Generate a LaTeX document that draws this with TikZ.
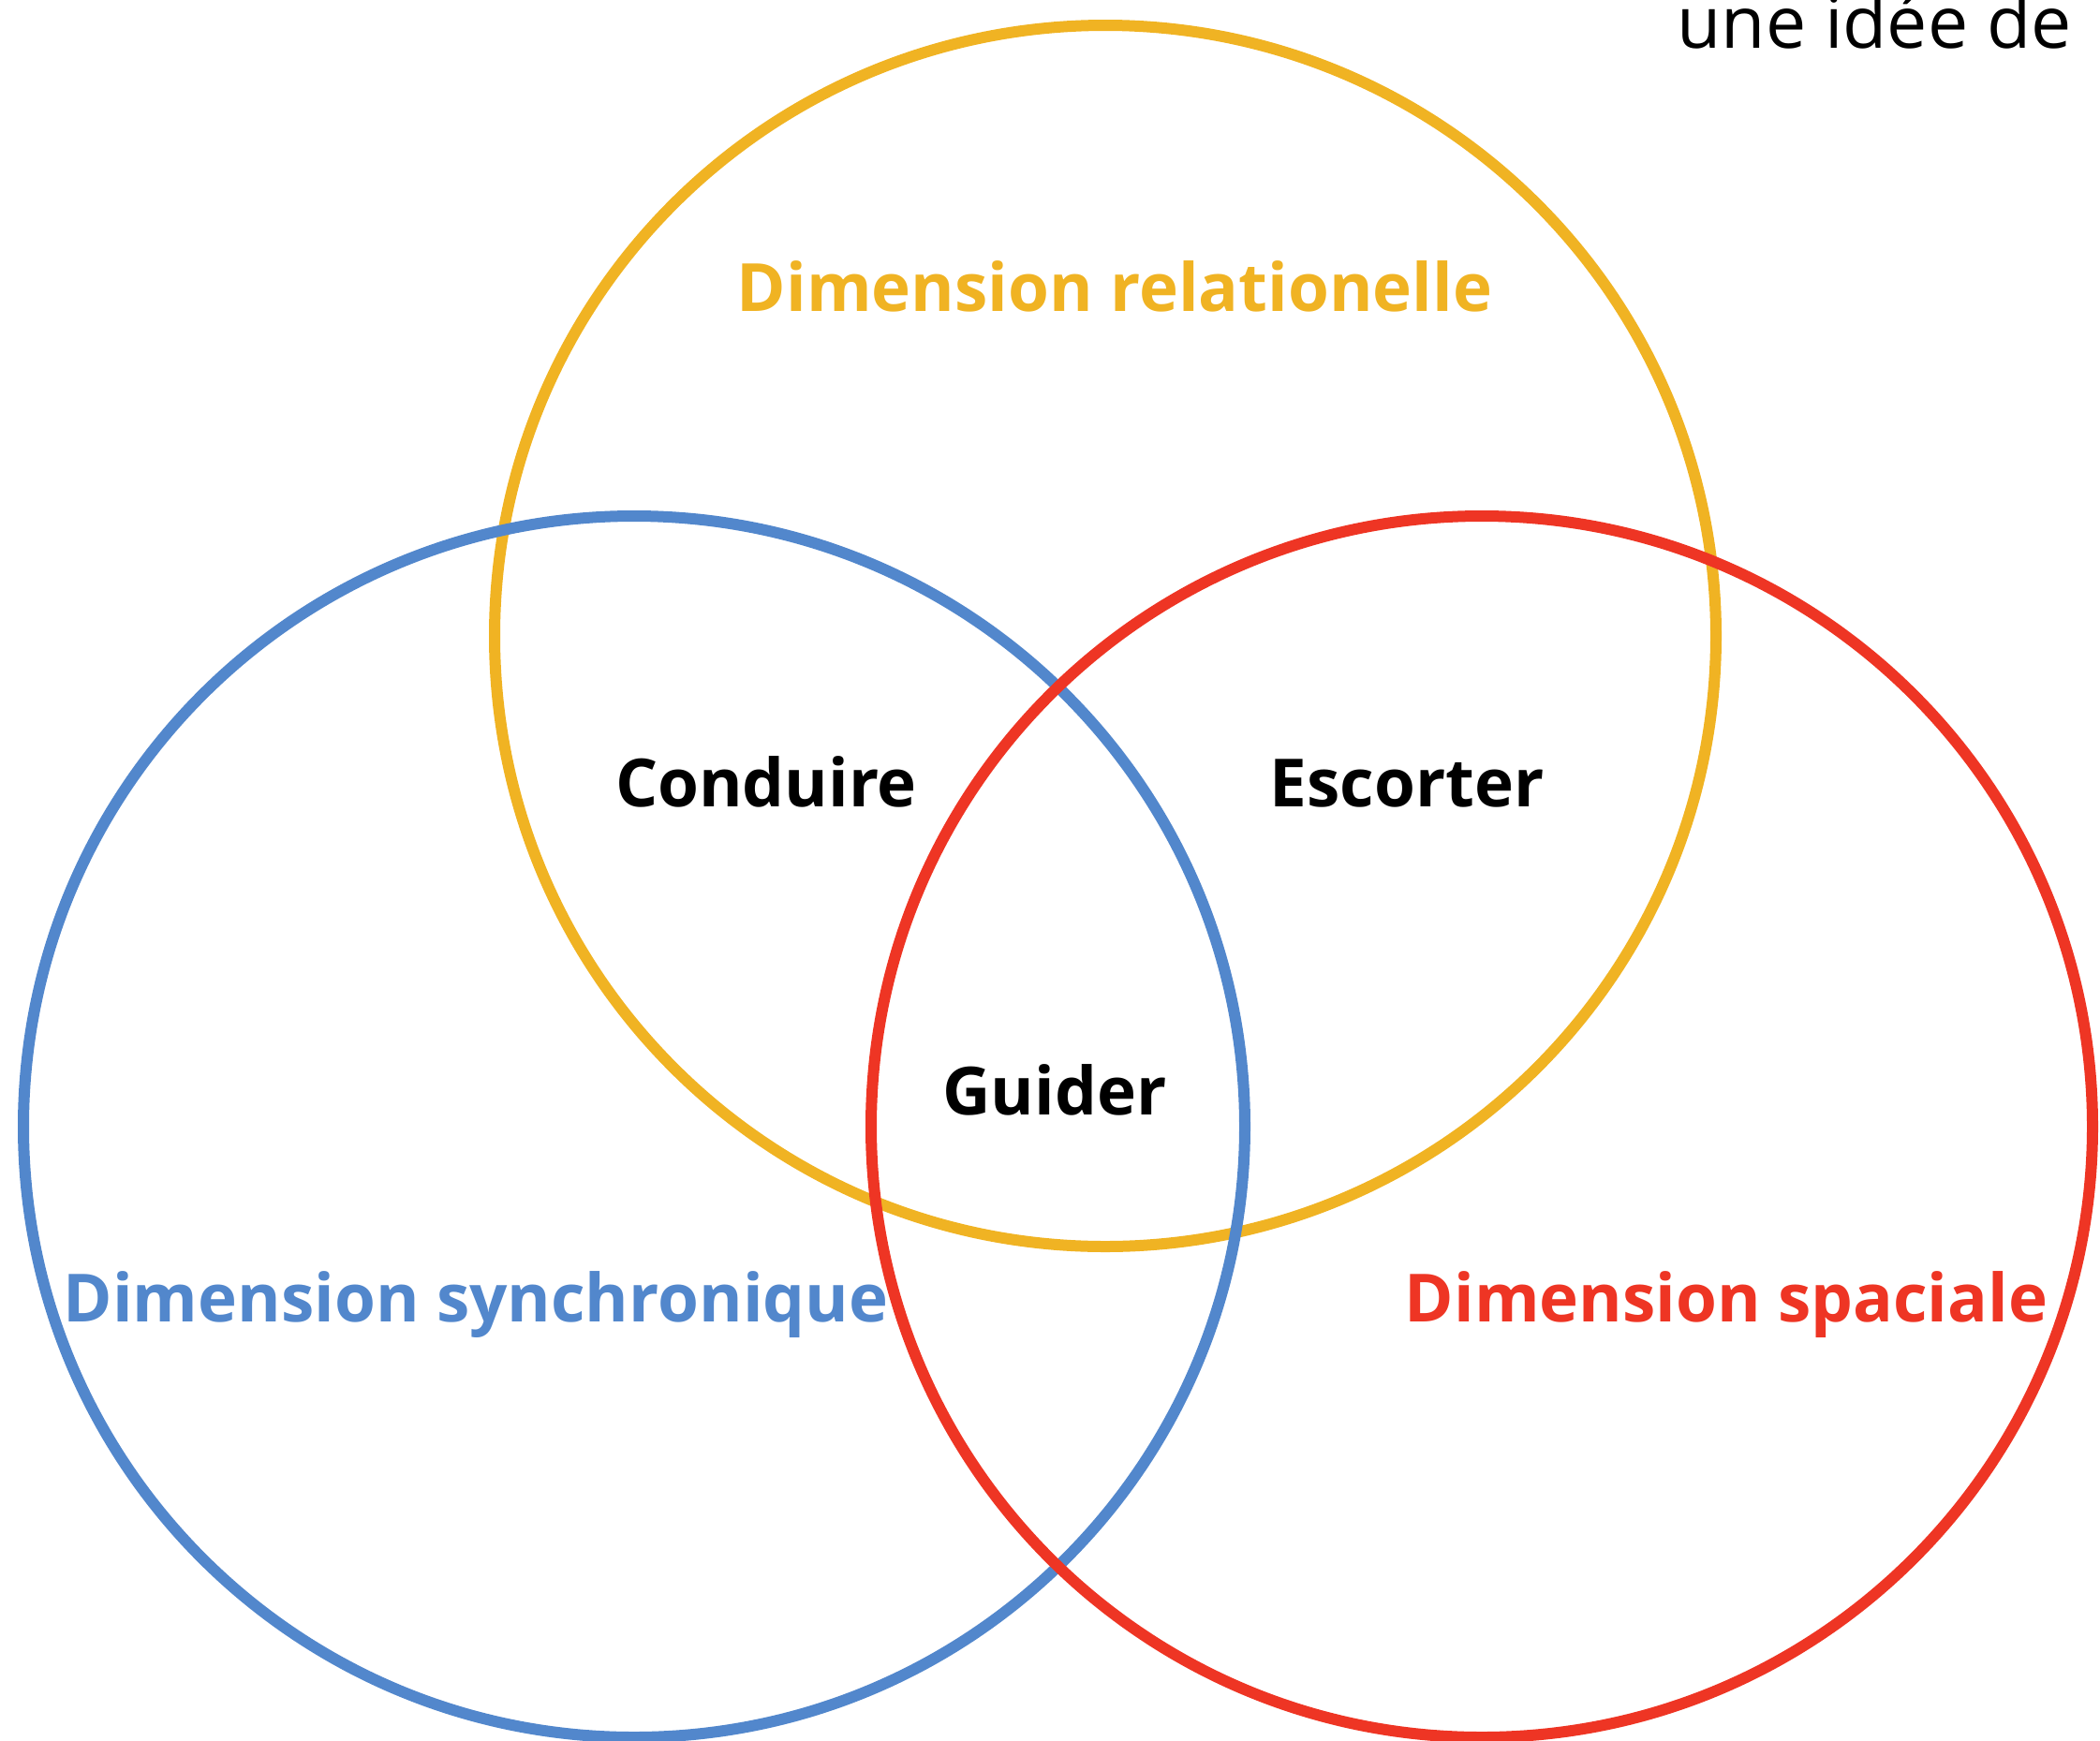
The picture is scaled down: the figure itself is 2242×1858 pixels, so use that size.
\documentclass[tikz,border=0pt]{standalone}
\usepackage{fontspec}
\setmainfont{Open Sans}
\definecolor{relcol}{HTML}{F0B323}
\definecolor{syncol}{HTML}{5287CC}
\definecolor{spacol}{HTML}{EE3524}
\begin{document}
\begin{tikzpicture}[x=1pt,y=-1pt,line width=12pt,
  dimlabel/.style={font=\fontsize{71}{85}\selectfont\bfseries,anchor=base},
  verblabel/.style={font=\fontsize{71}{85}\selectfont\bfseries,anchor=base}]
  \useasboundingbox (0,0) rectangle (2242,1858);
  \coordinate (R) at (1180,679);
  \coordinate (S) at (677,1203);
  \coordinate (P) at (1582,1203);
  \foreach \c/\col in {R/relcol, S/syncol, P/spacol} \draw[\col] (\c) circle(652pt);
  \node[dimlabel,text=relcol] (rel) at (1190,332) {Dimension relationelle};
  \node[dimlabel,text=syncol] (syn) at (508,1411) {Dimension synchronique};
  \node[dimlabel,text=spacol] (spa) at (1843,1411) {Dimension spaciale};
  \node[verblabel] (conduire) at (818,861) {Conduire};
  \node[verblabel] (escorter) at (1502,861) {Escorter};
  \node[verblabel] (guider) at (1126,1190) {Guider};
  \node[font=\fontsize{77}{92}\selectfont,anchor=base east] (idee) at (2221,51) {une idée de};
\end{tikzpicture}
\end{document}
